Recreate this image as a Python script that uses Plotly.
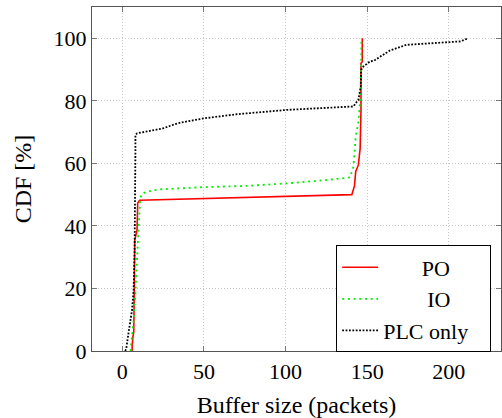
import plotly.graph_objects as go

# PO series
po_x = [6, 6, 6.5, 7, 7.3, 7.6, 9, 9.4, 10.6, 140.6, 142.2, 143, 144.6, 145.7, 146.2, 146.2, 147, 147]
po_y = [0, 1.5, 4.6, 6.2, 19.5, 35.5, 38.7, 47.3, 48.2, 50, 52.8, 57.4, 59.5, 64.8, 77, 92, 92.5, 100]

# IO series
io_x = [5, 5.3, 6.9, 8, 9, 10, 10.6, 11, 12, 15, 18.2, 23.3, 35.5, 49.8, 76.3, 100.8, 125.3, 137.5,
        139.5, 141.6, 142.6, 143, 144.6, 145.7, 146.3, 146.5]
io_y = [0, 1.4, 9.9, 18.5, 32.3, 39.8, 45.6, 49, 50.2, 51, 51.3, 51.7, 52, 52.4, 52.8, 53.6, 54.7, 55.2,
        55.5, 59, 64.3, 68.6, 73, 80, 90, 100]

# PLC only series
plc_x = [1.8, 2.4, 3.9, 5.9, 6.9, 7.5, 8, 8, 9, 25, 31, 35.5, 50, 70, 100.8, 141.6, 143.8, 144.6,
         146.1, 146.3, 147.7, 151.8, 154, 158, 164, 174, 184, 200, 207, 212]
plc_y = [0, 0.8, 6.2, 13, 19.5, 32.3, 64, 69.1, 69.6, 71.2, 72.3, 73, 74.4, 75.7, 77.1, 78.2, 79.8, 80.3,
         84.6, 89.9, 91, 92.6, 92.8, 94.2, 96.1, 97.9, 98.2, 98.7, 99, 100]

series_names = ["PO", "IO", "PLC only"]
x_ticks = [0, 50, 100, 150, 200]
y_ticks = [0, 20, 40, 60, 80, 100]

FONT = "Liberation Serif"
NB = "\u00a0"

fig = go.Figure()
fig.add_trace(go.Scatter(x=po_x, y=po_y, mode="lines", name=NB * 7 + series_names[0],
                         line=dict(color="#ff0000", width=1.6)))
fig.add_trace(go.Scatter(x=io_x, y=io_y, mode="lines", name=NB * 8 + series_names[1],
                         line=dict(color="#00ee00", width=1.8, dash="2px,3.7px")))
fig.add_trace(go.Scatter(x=plc_x, y=plc_y, mode="lines", name=series_names[2] + NB * 3,
                         line=dict(color="#000000", width=1.8, dash="1.8px,1.6px")))

axis_common = dict(
    showline=True, linecolor="#555555", linewidth=1.2, mirror="ticks",
    ticks="inside", ticklen=5, tickcolor="#777777", tickwidth=1,
    showgrid=True, gridcolor="#c8c8c8", griddash="1px,2px", gridwidth=1,
    zeroline=False, automargin=False,
    tickfont=dict(family=FONT, size=22, color="#000000"),
)

fig.update_layout(
    width=502, height=418,
    margin=dict(l=92, r=1, t=7, b=67),
    plot_bgcolor="white", paper_bgcolor="white",
    font=dict(family=FONT, color="#000000"),
    xaxis=dict(range=[-18.6, 232], tickvals=x_ticks,
               title=dict(text="Buffer size (packets)", font=dict(family=FONT, size=24)),
               **axis_common),
    yaxis=dict(range=[0, 110], tickvals=y_ticks,
               title=dict(text="CDF [%]", font=dict(family=FONT, size=24)),
               **axis_common),
    legend=dict(x=0.597, y=-0.004, xanchor="left", yanchor="bottom",
                bgcolor="white", bordercolor="#000000", borderwidth=1,
                font=dict(family=FONT, size=22), itemwidth=36,
                tracegroupgap=0),
    showlegend=True,
)

fig.write_html("out.html", config={"displayModeBar": False},
               post_script="document.body.style.margin='0';")
